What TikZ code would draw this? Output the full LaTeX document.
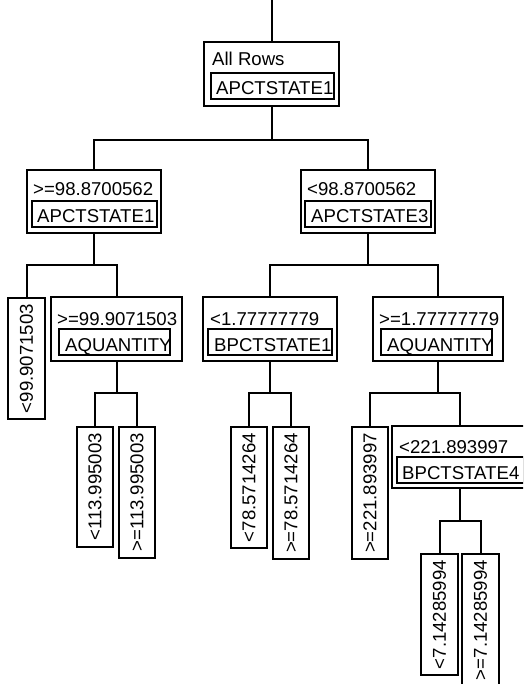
\documentclass[tikz,border=0pt]{standalone}
\usepackage{fontspec}
\setmainfont{Liberation Sans}
\begin{document}
\begin{tikzpicture}[x=1pt,y=-1pt,
  every node/.style={font=\fontsize{18.6pt}{22pt}\selectfont},
  obox/.style={draw, line width=2pt, inner sep=0pt},
  ibox/.style={draw, line width=2pt, inner sep=0pt, minimum height=26pt},
  txt/.style={anchor=base west, inner sep=0pt},
  leaf/.style={draw, line width=2pt, rotate=90, anchor=east, inner xsep=6pt, inner ysep=0pt, minimum height=36.5pt},
  conn/.style={line width=2pt}
]
\path[use as bounding box, clip] (0,0) rectangle (523,684);

% internal nodes: outer box, inner box, texts
\node[obox, minimum width=135pt, minimum height=64pt] (root) at (271.5,74) {};
\node[ibox, minimum width=123pt] (rootI) at (272.5,86) {};
\node[txt] (rootA) at (212,66) {All Rows};
\node[txt] (rootB) at (216,95) {APCTSTATE1};

\node[obox, minimum width=134pt, minimum height=63pt] (L) at (94,201.5) {};
\node[ibox, minimum width=125pt] (LI) at (94.5,214) {};
\node[txt] (LA) at (33,196) {>=98.8700562};
\node[txt] (LB) at (37,223) {APCTSTATE1};

\node[obox, minimum width=134pt, minimum height=63pt] (R) at (368,201.5) {};
\node[ibox, minimum width=126pt] (RI) at (368,214) {};
\node[txt] (RA) at (307,196) {<98.8700562};
\node[txt] (RB) at (311,223) {APCTSTATE3};

\node[obox, minimum width=131pt, minimum height=64pt] (LR) at (116.5,329) {};
\node[ibox, minimum width=111pt] (LRI) at (114.5,342) {};
\node[txt] (LRA) at (57,325) {>=99.9071503};
\node[txt] (LRB) at (65,351) {AQUANTITY};

\node[obox, minimum width=134pt, minimum height=64pt] (RL) at (270,329) {};
\node[ibox, minimum width=124pt] (RLI) at (270,342) {};
\node[txt] (RLA) at (210,325) {<1.77777779};
\node[txt] (RLB) at (214,351) {BPCTSTATE1};

\node[obox, minimum width=130pt, minimum height=64pt] (RR) at (438,329) {};
\node[ibox, minimum width=111pt] (RRI) at (436.5,342) {};
\node[txt] (RRA) at (379,325) {>=1.77777779};
\node[txt] (RRB) at (387,351) {AQUANTITY};

\node[obox, minimum width=136pt, minimum height=62pt] (RRR) at (460,457) {};
\node[ibox, minimum width=127pt] (RRRI) at (460.5,470) {};
\node[txt] (RRRA) at (399,453) {<221.893997};
\node[txt] (RRRB) at (402,479) {BPCTSTATE4};

% leaves
\node[leaf] (LL) at (26.5,297) {<99.9071503};
\node[leaf] (LRL) at (95,426) {<113.995003};
\node[leaf] (LRR) at (137,426) {>=113.995003};
\node[leaf] (RLL) at (249,426) {<78.5714264};
\node[leaf] (RLR) at (291,426) {>=78.5714264};
\node[leaf] (RRL) at (370,426) {>=221.893997};
\node[leaf] (RRRL) at (439.5,553) {<7.14285994};
\node[leaf] (RRRR) at (480.5,553) {>=7.14285994};

% connectors
\coordinate (top) at (271.5,0);
\coordinate (b1) at (0,140);
\coordinate (b2) at (0,265);
\coordinate (b3) at (0,393);
\coordinate (b4) at (0,521);
\draw[conn] (top) -- (root.north);
\draw[conn] (root.south) -- (root.south |- b1);
\draw[conn] (L.north) -- (L.north |- b1) -| (R.north);

\draw[conn] (L.south) -- (L.south |- b2);
\draw[conn] (LL.east) -- (LL.east |- b2) -| (LR.north);
\draw[conn] (R.south) -- (R.south |- b2);
\draw[conn] (RL.north) -- (RL.north |- b2) -| (RR.north);

\draw[conn] (LR.south) -- (LR.south |- b3);
\draw[conn] (LRL.east) -- (LRL.east |- b3) -| (LRR.east);
\draw[conn] (RL.south) -- (RL.south |- b3);
\draw[conn] (RLL.east) -- (RLL.east |- b3) -| (RLR.east);
\draw[conn] (RR.south) -- (RR.south |- b3);
\draw[conn] (RRL.east) -- (RRL.east |- b3) -| (RRR.north);

\draw[conn] (RRR.south) -- (RRR.south |- b4);
\draw[conn] (RRRL.east) -- (RRRL.east |- b4) -| (RRRR.east);
\end{tikzpicture}
\end{document}
